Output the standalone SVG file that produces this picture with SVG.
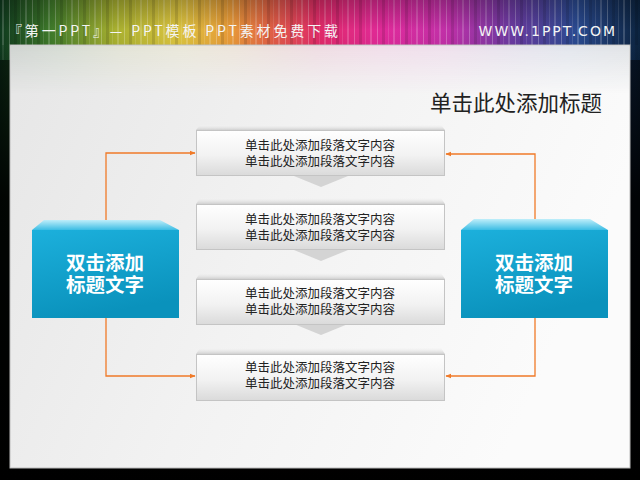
<svg xmlns="http://www.w3.org/2000/svg" width="640" height="480" viewBox="0 0 640 480">
<defs>
<linearGradient id="rainbow" x1="0" y1="0" x2="1" y2="0">
<stop offset="0" stop-color="#0f3a1e"/>
<stop offset="0.08" stop-color="#3f7a2a"/>
<stop offset="0.18" stop-color="#a8b030"/>
<stop offset="0.28" stop-color="#dcc440"/>
<stop offset="0.36" stop-color="#e89a38"/>
<stop offset="0.43" stop-color="#e05a48"/>
<stop offset="0.5" stop-color="#e02a6a"/>
<stop offset="0.6" stop-color="#e02a9a"/>
<stop offset="0.7" stop-color="#c030a8"/>
<stop offset="0.8" stop-color="#6a3aa0"/>
<stop offset="0.9" stop-color="#2a4a90"/>
<stop offset="1" stop-color="#0c2440"/>
</linearGradient>
<linearGradient id="topShade" x1="0" y1="0" x2="0" y2="1">
<stop offset="0" stop-color="#000" stop-opacity="0.25"/>
<stop offset="0.5" stop-color="#000" stop-opacity="0"/>
<stop offset="1" stop-color="#000" stop-opacity="0.05"/>
</linearGradient>
<linearGradient id="sideFade" x1="0" y1="0" x2="0" y2="1">
<stop offset="0" stop-color="#000" stop-opacity="0"/>
<stop offset="0.35" stop-color="#000" stop-opacity="0.85"/>
<stop offset="1" stop-color="#000" stop-opacity="1"/>
</linearGradient>
<pattern id="streaks" width="23" height="10" patternUnits="userSpaceOnUse">
<rect x="2" y="0" width="2" height="10" fill="#fff" opacity="0.18"/>
<rect x="9" y="0" width="1" height="10" fill="#fff" opacity="0.25"/>
<rect x="14" y="0" width="3" height="10" fill="#000" opacity="0.12"/>
<rect x="20" y="0" width="1" height="10" fill="#fff" opacity="0.12"/>
</pattern>
<linearGradient id="panel" x1="0" y1="0" x2="1" y2="0.3">
<stop offset="0" stop-color="#e6e6e6"/>
<stop offset="0.5" stop-color="#f2f2f2"/>
<stop offset="1" stop-color="#fbfbfb"/>
</linearGradient>
<linearGradient id="tintFade" x1="0" y1="0" x2="0" y2="1">
<stop offset="0" stop-color="#fff" stop-opacity="1"/>
<stop offset="1" stop-color="#fff" stop-opacity="0"/>
</linearGradient>
<mask id="tintMask">
<rect x="10" y="45" width="620" height="50" fill="url(#tintFade)"/>
</mask>
<linearGradient id="boxFill" x1="0" y1="0" x2="0" y2="1">
<stop offset="0" stop-color="#ffffff"/>
<stop offset="0.55" stop-color="#f2f2f2"/>
<stop offset="1" stop-color="#dadada"/>
</linearGradient>
<linearGradient id="bevelFill" x1="0" y1="0" x2="0" y2="1">
<stop offset="0" stop-color="#f4f4f4" stop-opacity="0.3"/>
<stop offset="1" stop-color="#d0d0d0"/>
</linearGradient>
<linearGradient id="blueFill" x1="0" y1="0" x2="0.3" y2="1">
<stop offset="0" stop-color="#1cb0dc"/>
<stop offset="1" stop-color="#0a92bc"/>
</linearGradient>
<linearGradient id="blueBevel" x1="0" y1="0" x2="0" y2="1">
<stop offset="0" stop-color="#bfeefa"/>
<stop offset="1" stop-color="#3cbde4"/>
</linearGradient>
<marker id="arr" viewBox="0 0 10 10" refX="9" refY="5" markerWidth="6" markerHeight="6" orient="auto" markerUnits="userSpaceOnUse">
<path d="M0,1 L10,5 L0,9 Z" fill="#f07a28"/>
</marker>
<style>
.hdr{font-family:"Noto Sans CJK SC","Liberation Sans",sans-serif;font-size:14px;fill:#f4f4f4;}
.ttl{font-family:"Noto Sans CJK SC",sans-serif;font-size:21.5px;fill:#222;}
.bt{font-family:"Liberation Sans","Noto Sans CJK SC",sans-serif;font-size:12.5px;fill:#222;text-anchor:middle;}
.blt{font-family:"Liberation Sans","Noto Sans CJK SC",sans-serif;font-size:19.5px;font-weight:bold;fill:#fff;text-anchor:middle;}
.box{fill:url(#boxFill);stroke:#c4c4c4;stroke-width:1;}
.bev{fill:url(#bevelFill);}
.notch{fill:#d4d4d4;}
.con{fill:none;stroke:#f07a28;stroke-width:1.3;}
</style>
</defs>
<rect width="640" height="480" fill="#000"/>
<rect x="0" y="0" width="640" height="60" fill="url(#rainbow)"/>
<rect x="0" y="0" width="640" height="60" fill="url(#streaks)"/>
<rect x="0" y="0" width="640" height="60" fill="url(#topShade)"/>
<rect x="0" y="45" width="640" height="435" fill="url(#rainbow)" opacity="0.5"/>
<rect x="0" y="45" width="640" height="435" fill="url(#sideFade)"/>
<text class="hdr" x="8" y="36" textLength="330" lengthAdjust="spacing">『第一PPT』— PPT模板 PPT素材免费下载</text>
<text class="hdr" x="617" y="36" text-anchor="end" letter-spacing="2" style="font-family:'DejaVu Sans',sans-serif;font-size:14px">WWW.1PPT.COM</text>
<rect x="10" y="45" width="620" height="423" fill="url(#panel)" stroke="#bbb" stroke-width="1"/>
<rect x="11" y="46" width="618" height="50" fill="url(#rainbow)" opacity="0.1" mask="url(#tintMask)"/>
<text class="ttl" x="602" y="111" text-anchor="end">单击此处添加标题</text>
<g id="connectors">
<polyline class="con" points="106,220 106,153 195,153" marker-end="url(#arr)"/>
<polyline class="con" points="106,318 106,376 195,376" marker-end="url(#arr)"/>
<polyline class="con" points="535,220 535,154 446,154" marker-end="url(#arr)"/>
<polyline class="con" points="535,318 535,376 446,376" marker-end="url(#arr)"/>
</g>
<g id="step1">
<polygon class="bev" points="200,125 441,125 445,130 196,130"/>
<polygon class="notch" points="294,176 348,176 321,187"/>
<rect class="box" x="196.5" y="130.5" width="248" height="45"/>
<text class="bt" x="320" y="150">单击此处添加段落文字内容<tspan x="320" dy="16">单击此处添加段落文字内容</tspan></text>
</g>
<g id="step2">
<polygon class="bev" points="200,198 441,198 445,204 196,204"/>
<polygon class="notch" points="294,250 348,250 321,261"/>
<rect class="box" x="196.5" y="204.5" width="248" height="45"/>
<text class="bt" x="320" y="224">单击此处添加段落文字内容<tspan x="320" dy="16">单击此处添加段落文字内容</tspan></text>
</g>
<g id="step3">
<polygon class="bev" points="200,273 441,273 445,279 196,279"/>
<polygon class="notch" points="294,324 348,324 321,335"/>
<rect class="box" x="196.5" y="279.5" width="248" height="45"/>
<text class="bt" x="320" y="298">单击此处添加段落文字内容<tspan x="320" dy="16">单击此处添加段落文字内容</tspan></text>
</g>
<g id="step4">
<polygon class="bev" points="200,348 441,348 445,354 196,354"/>
<rect class="box" x="196.5" y="354.5" width="248" height="46"/>
<text class="bt" x="320" y="372">单击此处添加段落文字内容<tspan x="320" dy="16">单击此处添加段落文字内容</tspan></text>
</g>
<g id="leftBox">
<polygon points="44,220 160,220 179,230 32,230" fill="url(#blueBevel)"/>
<rect x="32" y="230" width="147" height="88" fill="url(#blueFill)"/>
<text class="blt" x="105" y="270">双击添加<tspan x="105" dy="22">标题文字</tspan></text>
</g>
<g id="rightBox">
<polygon points="474,219 590,219 608,230 461,230" fill="url(#blueBevel)"/>
<rect x="461" y="230" width="147" height="88" fill="url(#blueFill)"/>
<text class="blt" x="534" y="270">双击添加<tspan x="534" dy="22">标题文字</tspan></text>
</g>
</svg>
